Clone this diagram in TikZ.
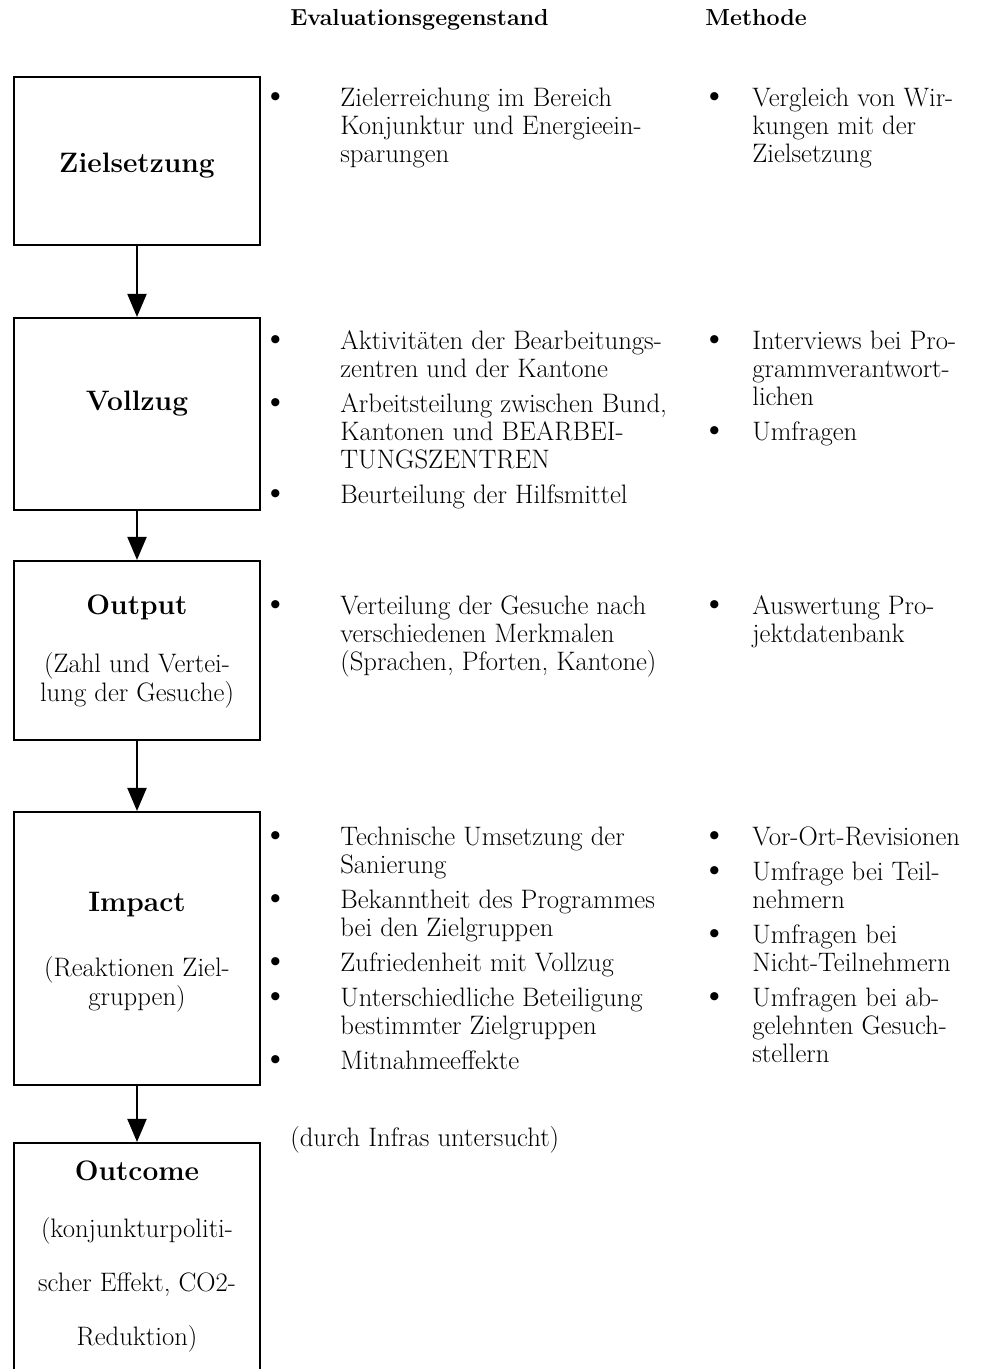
\documentclass[tikz,border=0pt]{standalone}
\usetikzlibrary{arrows.meta}
\newcommand{\grund}{\fontsize{15.2}{16}\selectfont}
\newcommand{\titel}{\fontsize{16}{19}\selectfont\bfseries}
\newcommand{\kopf}{\fontsize{13.2}{15}\selectfont\bfseries}
\newcommand{\pkt}{{\fontsize{21}{16}\selectfont\textbullet}}
\newenvironment{punkte}[1]{\begin{tabular}[t]{@{}p{#1}@{}l@{}}}{\end{tabular}}

\begin{document}
\begin{tikzpicture}[x=0.02cm, y=-0.02cm,
  box/.style={draw, line width=1.2pt, minimum width=4.92cm, inner sep=0},
  pfeil/.style={-{Triangle[width=0.38cm, length=0.46cm]}, line width=1.1pt},
  txt/.style={inner sep=0, font=\grund},
  liste/.style={txt, anchor=base west},
  titel/.style={inner sep=0, font=\titel, anchor=base},
  unter/.style={txt, align=center, anchor=base},
  kopf/.style={inner sep=0, font=\kopf, anchor=base west}]
  \useasboundingbox (0,0) rectangle (987,1369);
  \clip (0,0) rectangle (987,1369);
  % Spaltenkoepfe
  \node[kopf] (gegenstand) at (290,26) {Evaluationsgegenstand};
  \node[kopf] (methode) at (705,26) {Methode};
  % Kaestchen links
  \node[box, minimum height=3.36cm] (ziel) at (137,161) {};
  \node[box, minimum height=3.84cm] (vollzug) at (137,414) {};
  \node[box, minimum height=3.58cm] (output) at (137,650.5) {};
  \node[box, minimum height=5.46cm] (impact) at (137,948.5) {};
  \node[box, minimum height=5.14cm] (outcome) at (137,1271.5) {};
  \node[titel] (zielT) at (137,172) {Zielsetzung};
  \node[titel] (vollzugT) at (137,410) {Vollzug};
  \node[titel] (outputT) at (137,614) {Output};
  \node[unter] (outputU) at (137,701) {(Zahl und Vertei-\\lung der Gesuche)};
  \node[titel] (impactT) at (137,911) {Impact};
  \node[unter] (impactU) at (137,1005) {(Reaktionen Ziel-\\gruppen)};
  \node[titel] (outcomeT) at (137,1180) {Outcome};
  \node[unter, font=\fontsize{15.2}{30.5}\selectfont] (outcomeU) at (137,1345)
    {(konjunkturpoliti-\\scher Effekt, CO2-\\Reduktion)};
  \draw[pfeil] (ziel) -- (vollzug);
  \draw[pfeil] (vollzug) -- (output);
  \draw[pfeil] (output) -- (impact);
  \draw[pfeil] (impact) -- (outcome);
  % Evaluationsgegenstand
  \node[liste] (zielG) at (262,106) {\begin{punkte}{1.56cm}
    \pkt & Zielerreichung im Bereich\\
    & Konjunktur und Energieein-\\
    & sparungen
  \end{punkte}};
  \node[liste] (vollzugG) at (262,349) {\begin{punkte}{1.56cm}
    \pkt & Aktivitäten der Bearbeitungs-\\
    & zentren und der Kantone\\[0.14cm]
    \pkt & Arbeitsteilung zwischen Bund,\\
    & Kantonen und BEARBEI-\\
    & TUNGSZENTREN\\[0.14cm]
    \pkt & Beurteilung der Hilfsmittel
  \end{punkte}};
  \node[liste] (outputG) at (262,614) {\begin{punkte}{1.56cm}
    \pkt & Verteilung der Gesuche nach\\
    & verschiedenen Merkmalen\\
    & (Sprachen, Pforten, Kantone)
  \end{punkte}};
  \node[liste] (impactG) at (262,845) {\begin{punkte}{1.56cm}
    \pkt & Technische Umsetzung der\\
    & Sanierung\\[0.14cm]
    \pkt & Bekanntheit des Programmes\\
    & bei den Zielgruppen\\[0.14cm]
    \pkt & Zufriedenheit mit Vollzug\\[0.14cm]
    \pkt & Unterschiedliche Beteiligung\\
    & bestimmter Zielgruppen\\[0.14cm]
    \pkt & Mitnahmeeffekte
  \end{punkte}};
  \node[liste] (outcomeG) at (290,1146) {(durch Infras untersucht)};
  % Methode
  \node[liste] (zielM) at (701,106) {\begin{punkte}{1.02cm}
    \pkt & Vergleich von Wir-\\
    & kungen mit der\\
    & Zielsetzung
  \end{punkte}};
  \node[liste] (vollzugM) at (701,349) {\begin{punkte}{1.02cm}
    \pkt & Interviews bei Pro-\\
    & grammverantwort-\\
    & lichen\\[0.14cm]
    \pkt & Umfragen
  \end{punkte}};
  \node[liste] (outputM) at (701,614) {\begin{punkte}{1.02cm}
    \pkt & Auswertung Pro-\\
    & jektdatenbank
  \end{punkte}};
  \node[liste] (impactM) at (701,845) {\begin{punkte}{1.02cm}
    \pkt & Vor-Ort-Revisionen\\[0.14cm]
    \pkt & Umfrage bei Teil-\\
    & nehmern\\[0.14cm]
    \pkt & Umfragen bei\\
    & Nicht-Teilnehmern\\[0.14cm]
    \pkt & Umfragen bei ab-\\
    & gelehnten Gesuch-\\
    & stellern
  \end{punkte}};
\end{tikzpicture}
\end{document}
